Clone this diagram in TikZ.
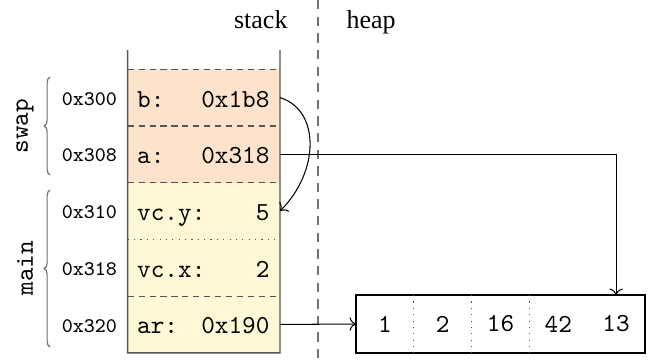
\documentclass[tikz,border=0pt]{standalone}
\usepackage{fontspec}
\newfontfamily\timesf{Liberation Serif}
\usetikzlibrary{decorations.pathreplacing,arrows.meta}
\definecolor{swapcol}{HTML}{FDE2CC}
\definecolor{maincol}{HTML}{FFF8D6}
\definecolor{framegray}{HTML}{555555}
\definecolor{bracegray}{HTML}{707070}
\begin{document}
\begin{tikzpicture}[x=0.385pt,y=-0.385pt,
  rowbox/.style={rectangle,minimum width=58.63pt,minimum height=21.83pt,inner sep=0pt,outer sep=0pt},
  cellbox/.style={rectangle,minimum width=22.25pt,minimum height=22.3pt,inner sep=0pt,outer sep=0pt,font=\ttfamily},
  vname/.style={anchor=base west,inner sep=0pt,font=\ttfamily},
  vval/.style={anchor=base east,inner sep=0pt,font=\ttfamily},
  addr/.style={anchor=base east,inner sep=0pt,font=\ttfamily\footnotesize},
  sepdash/.style={framegray,line width=0.45pt,dash pattern=on 2.4pt off 1.8pt},
  sepdot/.style={framegray,line width=0.45pt,dotted},
  frameline/.style={framegray,line width=0.55pt},
  conn/.style={line width=0.4pt,->},
  fbrace/.style={bracegray,line width=0.45pt,decorate,decoration={brace,amplitude=2.2pt}},
  title/.style={inner sep=0pt,font=\timesf},
  flabel/.style={rotate=90,font=\ttfamily,inner sep=0pt}
]
\useasboundingbox (0,0) rectangle (649,362);
% rows
\node[rowbox,fill=swapcol] (b)  at (203.85,97.65) {};
\node[rowbox,fill=swapcol] (a)  at (203.85,154.35) {};
\node[rowbox,fill=maincol] (vy) at (203.85,211.05) {};
\node[rowbox,fill=maincol] (vx) at (203.85,267.75) {};
\node[rowbox,fill=maincol] (ar) at (203.85,324.45) {};
% separators
\draw[sepdash] (b.north west) -- (b.north east);
\draw[sepdash] (b.south west) -- (b.south east);
\draw[sepdash] (a.south west) -- (a.south east);
\draw[sepdot]  (vy.south west) -- (vy.south east);
\draw[sepdash] (vx.south west) -- (vx.south east);
% frame
\coordinate (ftl) at (127.7,50);
\coordinate (ftr) at (280,50);
\draw[frameline] (ftl) -- (ar.south west) -- (ar.south east) -- (ftr);
% texts in rows
\node[vname] (nb)  at (136.7,107.1) {b:};
\node[vval]  (xb)  at (270,107.1) {0x1b8};
\node[vname] (na)  at (136.7,163.8) {a:};
\node[vval]  (xa)  at (270,163.8) {0x318};
\node[vname] (ny)  at (136.7,220.5) {vc.y:};
\node[vval]  (xy)  at (270,220.5) {5};
\node[vname] (nx)  at (136.7,277.2) {vc.x:};
\node[vval]  (xx)  at (270,277.2) {2};
\node[vname] (nr)  at (136.7,333.9) {ar:};
\node[vval]  (xr)  at (270,333.9) {0x190};
% addresses
\node[addr] (d1) at (117.5,105.2) {0x300};
\node[addr] (d2) at (117.5,161.9) {0x308};
\node[addr] (d3) at (117.5,218.6) {0x310};
\node[addr] (d4) at (117.5,275.3) {0x318};
\node[addr] (d5) at (117.5,332.0) {0x320};
% braces
\coordinate (s1) at (50,175);
\coordinate (s2) at (50,77);
\coordinate (m1) at (50,347);
\coordinate (m2) at (50,190);
\draw[fbrace] (s1) -- (s2);
\draw[fbrace] (m1) -- (m2);
\node[flabel] (lswap) at (25,126) {swap};
\node[flabel] (lmain) at (25,268) {main};
% divider
\coordinate (dv1) at (318,0);
\coordinate (dv2) at (318,362);
\draw[color=black!55,line width=0.6pt,dash pattern=on 3.6pt off 2.8pt] (dv1) -- (dv2);
% titles
\node[title,anchor=base east] (tstack) at (288,28) {stack};
\node[title,anchor=base west] (theap) at (346,28) {heap};
% heap array
\node[cellbox] (c1) at (384.9,324) {1};
\node[cellbox] (c2) at (442.7,324) {2};
\node[cellbox] (c3) at (500.5,324) {16};
\node[cellbox] (c4) at (558.3,324) {42};
\node[cellbox] (c5) at (616.1,324) {13};
\draw[line width=0.45pt] (c1.north west) rectangle (c5.south east);
\draw[sepdot,line width=0.4pt] (c1.north east) -- (c1.south east);
\draw[sepdot,line width=0.4pt] (c2.north east) -- (c2.south east);
\draw[sepdot,line width=0.4pt] (c3.north east) -- (c3.south east);
% connectors
\draw[conn] (b.east) .. controls +(40,12) and +(40,-40) .. (vy.east);
\draw[conn] (a.east) -| (c5.north);
\draw[conn] (ar.east) -- (c1.west);
\end{tikzpicture}
\end{document}
